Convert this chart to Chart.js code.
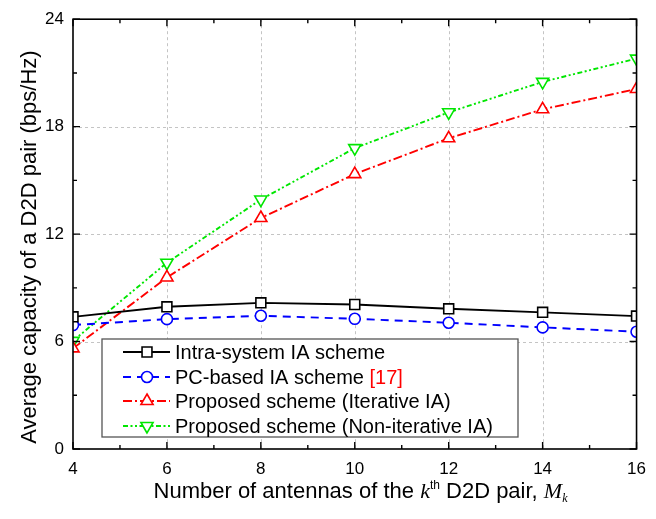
<!DOCTYPE html>
<html>
<head>
<meta charset="utf-8">
<script src="https://cdn.jsdelivr.net/npm/chart.js@4/dist/chart.umd.min.js"></script>
<style>
  html, body { margin: 0; padding: 0; background: #fff; }
  #wrap { width: 656px; height: 519px; position: relative; }
</style>
</head>
<body>
<div id="wrap"><canvas id="c" width="656" height="519"></canvas></div>
<script>
// Number of antennas of the k-th D2D pair
const antennas = [4, 6, 8, 10, 12, 14, 16];
// Average capacity (bps/Hz) per scheme
const intraSystem     = [7.38, 7.94, 8.16, 8.07, 7.83, 7.63, 7.42];
const pcBased         = [6.92, 7.25, 7.44, 7.27, 7.05, 6.79, 6.55];
const proposedIter    = [5.62, 9.58, 12.90, 15.35, 17.35, 18.97, 20.10];
const proposedNonIter = [6.04, 10.40, 13.93, 16.80, 18.80, 20.50, 21.80];

const seriesNames = [
  'Intra-system IA scheme',
  'PC-based IA scheme ',
  'Proposed scheme (Iterative IA)',
  'Proposed scheme (Non-iterative IA)'
];
const citeLabel = '[17]';

const xTicks = [4, 6, 8, 10, 12, 14, 16];
const xMinor = [5, 7, 9, 11, 13, 15];
const yTicks = [0, 6, 12, 18, 24];
const yMinor = [3, 9, 15, 21];

const FONT = '"Liberation Sans", Arial, Helvetica, sans-serif';
const SERIF = '"Liberation Serif", "Times New Roman", serif';

function pts(vals) { return antennas.map((x, i) => ({ x, y: vals[i] })); }

const styles = [
  { color: '#000000', dash: [],                       style: 'rect',     rot: 0,   r: 7 },
  { color: '#0000ff', dash: [8, 6],                   style: 'circle',   rot: 0,   r: 5.5 },
  { color: '#ff0000', dash: [9, 3, 2, 3],             style: 'triangle', rot: 0,   r: 7 },
  { color: '#00e600', dash: [5, 2.5, 2, 2.5, 2, 2.5], style: 'triangle', rot: 180, r: 7 }
];
const seriesData = [intraSystem, pcBased, proposedIter, proposedNonIter];

const datasets = seriesData.map((vals, i) => ({
  label: seriesNames[i],
  data: pts(vals),
  borderColor: styles[i].color,
  borderWidth: 1.9,
  borderDash: styles[i].dash,
  pointStyle: styles[i].style,
  pointRotation: styles[i].rot,
  pointRadius: styles[i].r,
  pointBorderWidth: 1.6,
  pointBorderColor: styles[i].color,
  pointBackgroundColor: '#ffffff',
  fill: false,
  tension: 0
}));

const framePlugin = {
  id: 'frame',
  beforeDatasetsDraw(chart) {
    const { ctx, chartArea: a, scales: { x, y } } = chart;
    ctx.save();
    ctx.strokeStyle = '#c4c4c4';
    ctx.lineWidth = 1;
    ctx.setLineDash([3, 3]);
    xTicks.slice(1, -1).forEach(v => {
      const px = Math.round(x.getPixelForValue(v)) + 0.5;
      ctx.beginPath(); ctx.moveTo(px, a.top); ctx.lineTo(px, a.bottom); ctx.stroke();
    });
    yTicks.slice(1, -1).forEach(v => {
      const py = Math.round(y.getPixelForValue(v)) + 0.5;
      ctx.beginPath(); ctx.moveTo(a.left, py); ctx.lineTo(a.right, py); ctx.stroke();
    });
    ctx.restore();
  },
  afterDatasetsDraw(chart) {
    const { ctx, chartArea: a, scales: { x, y } } = chart;
    ctx.save();
    ctx.setLineDash([]);
    ctx.strokeStyle = '#000';
    ctx.lineWidth = 1.6;
    ctx.strokeRect(a.left, a.top, a.right - a.left, a.bottom - a.top);

    // inward ticks on all four sides
    ctx.lineWidth = 1.4;
    const tickX = (vals, len) => {
      vals.forEach(v => {
        const px = x.getPixelForValue(v);
        ctx.beginPath();
        ctx.moveTo(px, a.bottom); ctx.lineTo(px, a.bottom - len);
        ctx.moveTo(px, a.top); ctx.lineTo(px, a.top + len);
        ctx.stroke();
      });
    };
    const tickY = (vals, len) => {
      vals.forEach(v => {
        const py = y.getPixelForValue(v);
        ctx.beginPath();
        ctx.moveTo(a.left, py); ctx.lineTo(a.left + len, py);
        ctx.moveTo(a.right, py); ctx.lineTo(a.right - len, py);
        ctx.stroke();
      });
    };
    tickX(xTicks, 7); tickX(xMinor, 4);
    tickY(yTicks, 7); tickY(yMinor, 4);

    // legend box
    const lx = 102, ly = 339, lw = 416, lh = 98;
    ctx.fillStyle = '#fff';
    ctx.fillRect(lx, ly, lw, lh);
    ctx.strokeStyle = '#555';
    ctx.lineWidth = 1.3;
    ctx.strokeRect(lx, ly, lw, lh);

    const rowY = [352, 377, 401, 426];
    ctx.font = '20px ' + FONT;
    ctx.textBaseline = 'middle';
    ctx.textAlign = 'left';
    chart.data.datasets.forEach((ds, i) => {
      const ry = rowY[i];
      ctx.strokeStyle = ds.borderColor;
      ctx.lineWidth = ds.borderWidth;
      ctx.setLineDash(ds.borderDash);
      ctx.beginPath(); ctx.moveTo(123, ry); ctx.lineTo(170, ry); ctx.stroke();
      ctx.setLineDash([]);
      ctx.fillStyle = '#fff';
      ctx.lineWidth = ds.pointBorderWidth;
      Chart.helpers.drawPoint(ctx, {
        pointStyle: ds.pointStyle, rotation: ds.pointRotation,
        radius: ds.pointRadius, borderWidth: ds.pointBorderWidth
      }, 147, ry);
      ctx.fillStyle = '#000';
      ctx.fillText(ds.label, 175, ry + 1);
      if (i === 1) {
        const w = ctx.measureText(ds.label).width;
        ctx.fillStyle = '#ff0000';
        ctx.fillText(citeLabel, 175 + w, ry + 1);
      }
    });

    // y-axis title
    ctx.save();
    ctx.translate(30, 247);
    ctx.rotate(-Math.PI / 2);
    ctx.fillStyle = '#000';
    ctx.font = '22px ' + FONT;
    ctx.textAlign = 'center';
    ctx.textBaseline = 'middle';
    ctx.fillText('Average capacity of a D2D pair (bps/Hz)', 0, 0);
    ctx.restore();

    // x-axis title with superscript / subscript parts
    const parts = [
      { t: 'Number of antennas of the ', f: '22px ' + FONT, dy: 0 },
      { t: 'k', f: 'italic 22px ' + SERIF, dy: 0 },
      { t: 'th', f: '12px ' + FONT, dy: -9 },
      { t: ' D2D pair, ', f: '22px ' + FONT, dy: 0 },
      { t: 'M', f: 'italic 22px ' + SERIF, dy: 0 },
      { t: 'k', f: 'italic 12px ' + SERIF, dy: 4 }
    ];
    let total = 0;
    parts.forEach(p => { ctx.font = p.f; p.w = ctx.measureText(p.t).width; total += p.w; });
    let cx = 360.5 - total / 2;
    ctx.textAlign = 'left';
    ctx.textBaseline = 'alphabetic';
    ctx.fillStyle = '#000';
    parts.forEach(p => { ctx.font = p.f; ctx.fillText(p.t, cx, 498 + p.dy); cx += p.w; });
    ctx.restore();
  }
};

new Chart(document.getElementById('c'), {
  type: 'line',
  data: { datasets },
  options: {
    responsive: false,
    animation: false,
    devicePixelRatio: 1,
    layout: { padding: { left: 0, top: 19, right: 10, bottom: 0 } },
    plugins: { legend: { display: false }, tooltip: { enabled: false } },
    scales: {
      x: {
        type: 'linear', min: 4, max: 16,
        afterBuildTicks: s => { s.ticks = xTicks.map(v => ({ value: v })); },
        afterFit: s => { s.height = 70; },
        grid: { display: false, drawTicks: false },
        border: { display: false },
        ticks: { color: '#000', font: { family: FONT, size: 17 }, padding: 10, maxRotation: 0 }
      },
      y: {
        type: 'linear', min: 0, max: 24,
        afterBuildTicks: s => { s.ticks = yTicks.map(v => ({ value: v })); },
        afterFit: s => { s.width = 73; },
        grid: { display: false, drawTicks: false },
        border: { display: false },
        ticks: { color: '#000', font: { family: FONT, size: 17 }, padding: 9 }
      }
    }
  },
  plugins: [framePlugin]
});
</script>
</body>
</html>
